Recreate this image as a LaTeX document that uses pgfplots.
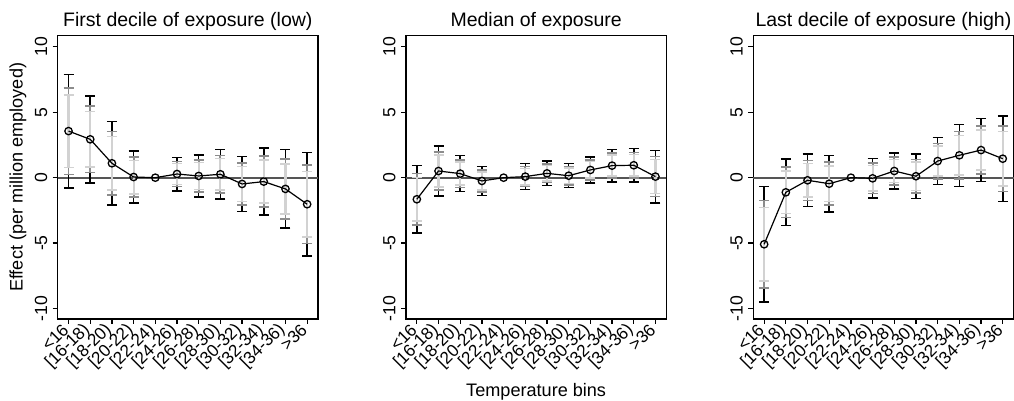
\documentclass[border=0pt]{standalone}
\usepackage{fontspec}
\setmainfont{Liberation Sans}
\usepackage{pgfplots}
\usepackage{pgfplotstable}
\pgfplotsset{compat=1.18}

\pgfplotstableread{
x y e99 e95 e90
0 3.56 4.34 3.30 2.77
1 2.93 3.33 2.53 2.13
2 1.10 3.18 2.42 2.03
3 0.05 2.00 1.52 1.28
4 0 0 0 0
5 0.28 1.28 0.97 0.82
6 0.13 1.62 1.23 1.03
7 0.26 1.90 1.44 1.21
8 -0.48 2.10 1.60 1.34
9 -0.30 2.57 1.96 1.64
10 -0.86 3.00 2.28 1.92
11 -2.03 3.95 3.00 2.52
}\dataA

\pgfplotstableread{
x y e99 e95 e90
0 -1.65 2.58 1.96 1.65
1 0.51 1.91 1.45 1.22
2 0.31 1.38 1.05 0.88
3 -0.25 1.10 0.84 0.70
4 0 0 0 0
5 0.08 1.00 0.76 0.64
6 0.33 0.93 0.71 0.59
7 0.15 0.92 0.70 0.58
8 0.59 0.99 0.75 0.63
9 0.92 1.25 0.95 0.80
10 0.95 1.27 0.97 0.81
11 0.08 2.01 1.53 1.29
}\dataB

\pgfplotstableread{
x y e99 e95 e90
0 -5.09 4.40 3.35 2.81
1 -1.12 2.55 1.94 1.63
2 -0.20 2.01 1.53 1.28
3 -0.46 2.15 1.64 1.37
4 0 0 0 0
5 -0.05 1.52 1.16 0.97
6 0.51 1.39 1.06 0.89
7 0.11 1.69 1.29 1.08
8 1.27 1.79 1.36 1.14
9 1.71 2.37 1.80 1.51
10 2.11 2.40 1.83 1.53
11 1.45 3.27 2.49 2.09
}\dataC

\definecolor{midgray}{HTML}{8C8C8C}
\definecolor{lightgray}{HTML}{D2D2D2}
\definecolor{zerogray}{HTML}{555555}

\pgfplotsset{
  every axis title/.style={at={(axis description cs:0.5,1.05)}, anchor=center, font=\fontsize{9.75}{11.5}\selectfont},
  panel/.style={
    scale only axis,
    width=130.15pt, height=141.65pt,
    xmin=-0.5, xmax=11.5, ymin=-10.8, ymax=10.85,
    xtick={0,...,11},
    xticklabels={{<16},{[16-18)},{[18-20)},{[20-22)},{[22-24)},{[24-26)},{[26-28)},{[28-30)},{[30-32)},{[32-34)},{[34-36)},{>36}},
    ytick={-10,-5,0,5,10},
    tick align=outside, xtick pos=bottom, ytick pos=left,
    major tick length=2.5pt,
    every tick/.style={black, line width=0.6pt},
    axis line style={line width=0.75pt},
    font=\fontsize{8.8}{10.5}\selectfont,
    /pgf/number format/assume math mode=true,
    x tick label style={rotate=45, anchor=east, inner sep=2pt, font=\fontsize{8.6}{10}\selectfont},
    y tick label style={rotate=90, anchor=south, inner sep=2.5pt, font=\fontsize{8.8}{10.5}\selectfont},
    clip=false,
  },
  eb/.style n args={2}{draw=none, forget plot, mark=none,
    skip coords between index={4}{5},
    error bars/.cd, y dir=both, y explicit,
    error bar style={color=#1, line width=#2},
    error mark options={rotate=90, mark size=2.5pt, color=#1, line width=0.75pt}},
}

\newcommand{\panelplots}[1]{%
  \addplot[zerogray, line width=1pt, forget plot] coordinates {(-0.5,0) (11.5,0)};
  \addplot[eb={black}{0.75pt}] table[x=x, y=y, y error=e99] {#1};
  \addplot[eb={midgray}{0.9pt}] table[x=x, y=y, y error=e95] {#1};
  \addplot[eb={lightgray}{1.1pt}] table[x=x, y=y, y error=e90] {#1};
  \addplot[black, line width=0.6pt, mark=o, mark size=1.85pt,
    mark options={fill=white, line width=0.65pt}] table[x=x, y=y] {#1};
}

\begin{document}
\begin{tikzpicture}
\useasboundingbox (0,0) rectangle (507pt,200.5pt);

\begin{axis}[panel, at={(28.85pt,41pt)}, anchor=south west,
  title={First decile of exposure (low)},
  ylabel={Effect (per million employed)},
  ylabel style={at={(axis description cs:-0.1525,0.5)}, anchor=center, font=\fontsize{9.05}{10.5}\selectfont}]
\panelplots{\dataA}
\end{axis}

\begin{axis}[panel, at={(203pt,41pt)}, anchor=south west,
  title={Median of exposure},
  xlabel={Temperature bins},
  xlabel style={at={(axis description cs:0.5,-0.2566)}, anchor=center, font=\fontsize{9.05}{10.5}\selectfont}]
\panelplots{\dataB}
\end{axis}

\begin{axis}[panel, at={(376.65pt,41pt)}, anchor=south west,
  title={Last decile of exposure (high)}]
\panelplots{\dataC}
\end{axis}
\end{tikzpicture}
\end{document}
